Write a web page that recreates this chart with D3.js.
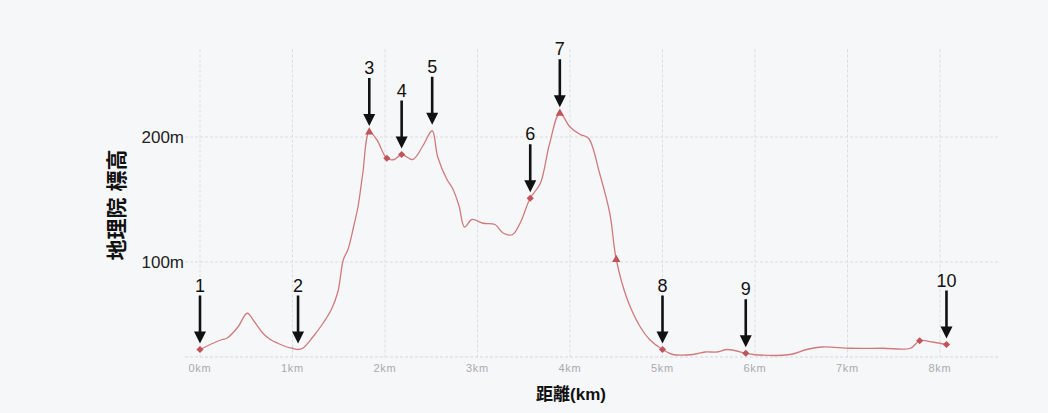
<!DOCTYPE html>
<html>
<head>
<meta charset="utf-8">
<script src="https://cdn.jsdelivr.net/npm/d3@7"></script>
<style>
  body { margin: 0; background: #f6f7f9; }
  svg { display: block; font-family: "Liberation Sans", "Noto Sans CJK JP", sans-serif; }
</style>
</head>
<body>
<div id="chart"></div>
<script>
// elevation profile (distance km, elevation m)
const dist = [0, 0.14, 0.24, 0.29, 0.41, 0.51, 0.59, 0.68, 0.76, 0.84, 0.94, 1.0, 1.06, 1.11, 1.22, 1.33, 1.42, 1.49, 1.55, 1.60, 1.66, 1.71, 1.76, 1.83,
  1.91, 2.02, 2.10, 2.18, 2.30, 2.41, 2.51, 2.57, 2.67, 2.73, 2.80, 2.86, 2.94, 3.06, 3.19, 3.28, 3.38, 3.46, 3.57,
  3.68, 3.78, 3.89, 4.0, 4.11, 4.20, 4.32, 4.43, 4.50, 4.62, 4.76, 4.86, 5.0, 5.11, 5.33, 5.46, 5.59,
  5.70, 5.90, 5.98, 6.38, 6.56, 6.73, 7.03, 7.38, 7.68, 7.78, 7.92, 8.07];
const elev = [30, 35, 38, 39, 48, 59, 52, 43, 38, 35, 32, 31, 30, 31, 40, 51, 62, 76, 102, 110, 128, 145, 171, 204,
  198, 183, 182, 186, 182, 193, 205, 184, 166, 159, 145, 128, 134, 131, 130, 123, 122, 131, 151,
  163, 195, 219, 208, 202, 199, 171, 139, 102, 70, 48, 38, 30, 26, 26, 28, 28,
  30, 27, 26, 26, 30, 32, 31, 31, 31, 37, 36, 34];

// markers on the line (index into dist/elev) and their shapes
const markerIdx = [0, 23, 25, 27, 42, 45, 51, 55, 61, 69, 71];
const markerShape = ['diamond', 'triangle', 'diamond', 'diamond', 'diamond', 'triangle', 'triangle', 'diamond', 'diamond', 'diamond', 'diamond'];

// numbered arrows: label and index of the point they point at
const arrowLabels = ['1', '2', '3', '4', '5', '6', '7', '8', '9', '10'];
const arrowIdx = [0, 12, 23, 27, 30, 42, 45, 55, 61, 71];

const xTicks = [0, 1, 2, 3, 4, 5, 6, 7, 8];
const yTicks = [100, 200];

const W = 1048, H = 413;
const svg = d3.select('#chart').append('svg')
  .attr('width', W)
  .attr('height', H);

const x = d3.scaleLinear().domain([0, 8]).range([200, 940]);
const y = d3.scaleLinear().domain([24, 270]).range([357, 49.5]);

// grid
svg.append('g')
  .selectAll('line')
  .data(xTicks)
  .join('line')
  .attr('x1', d => x(d)).attr('x2', d => x(d))
  .attr('y1', y(270)).attr('y2', y(24))
  .style('stroke', '#dcdde0')
  .style('stroke-width', 1)
  .style('stroke-dasharray', '3,2');

svg.append('g')
  .selectAll('line')
  .data(yTicks)
  .join('line')
  .attr('x1', 185).attr('x2', 1000)
  .attr('y1', d => y(d)).attr('y2', d => y(d))
  .style('stroke', '#dcdde0')
  .style('stroke-width', 1)
  .style('stroke-dasharray', '3,2');

svg.append('line')
  .attr('x1', 185).attr('x2', 1000)
  .attr('y1', y(24)).attr('y2', y(24))
  .style('stroke', '#d6d7da')
  .style('stroke-dasharray', '3,2');

// x axis labels
svg.append('g')
  .selectAll('text')
  .data(xTicks)
  .join('text')
  .attr('x', d => x(d))
  .attr('y', 372)
  .attr('text-anchor', 'middle')
  .style('font-size', '11px')
  .style('letter-spacing', '0.8px')
  .style('fill', '#a8aaae')
  .text(d => d + 'km');

// y axis labels
svg.append('g')
  .selectAll('text')
  .data(yTicks)
  .join('text')
  .attr('x', 184)
  .attr('y', d => y(d) + 6)
  .attr('text-anchor', 'end')
  .style('font-size', '17px')
  .style('fill', '#222')
  .text(d => d + 'm');

svg.append('text')
  .attr('transform', 'translate(124,205) rotate(-90)')
  .attr('text-anchor', 'middle')
  .style('font-size', '21px')
  .style('font-weight', 'bold')
  .style('fill', '#111')
  .text('地理院 標高');

svg.append('text')
  .attr('x', 571)
  .attr('y', 400)
  .attr('text-anchor', 'middle')
  .style('font-size', '17px')
  .style('font-weight', 'bold')
  .style('fill', '#111')
  .text('距離(km)');

// profile line
const pts = dist.map((d, i) => [d, elev[i]]);
const line = d3.line()
  .x(d => x(d[0]))
  .y(d => y(d[1]))
  .curve(d3.curveCatmullRom.alpha(0.5));

svg.append('path')
  .datum(pts)
  .attr('d', line)
  .style('fill', 'none')
  .style('stroke', '#d07b7b')
  .style('stroke-width', 1.3);

// markers
const diamond = d3.symbol().type(d3.symbolSquare).size(26)();
const triangle = d3.symbol().type(d3.symbolTriangle).size(30)();
svg.append('g')
  .selectAll('path')
  .data(markerIdx)
  .join('path')
  .attr('d', (d, i) => markerShape[i] === 'diamond' ? diamond : triangle)
  .attr('transform', (d, i) => `translate(${x(dist[d])},${y(elev[d])})` + (markerShape[i] === 'diamond' ? ' rotate(45)' : ''))
  .style('fill', '#c0545a');

// arrows
const arrowLen = 48, gap = 6;
const ag = svg.append('g')
  .selectAll('g')
  .data(arrowIdx)
  .join('g')
  .attr('transform', d => `translate(${x(dist[d])},${y(elev[d]) - gap})`);

ag.append('line')
  .attr('x1', 0).attr('x2', 0)
  .attr('y1', -arrowLen).attr('y2', -10)
  .style('stroke', '#111')
  .style('stroke-width', 2.6);

ag.append('path')
  .attr('d', 'M-6,-12 L6,-12 L0,0 Z')
  .style('fill', '#111');

ag.append('text')
  .attr('x', 0)
  .attr('y', -arrowLen - 4)
  .attr('text-anchor', 'middle')
  .style('font-size', '18px')
  .style('fill', '#111')
  .text((d, i) => arrowLabels[i]);
</script>
</body>
</html>
